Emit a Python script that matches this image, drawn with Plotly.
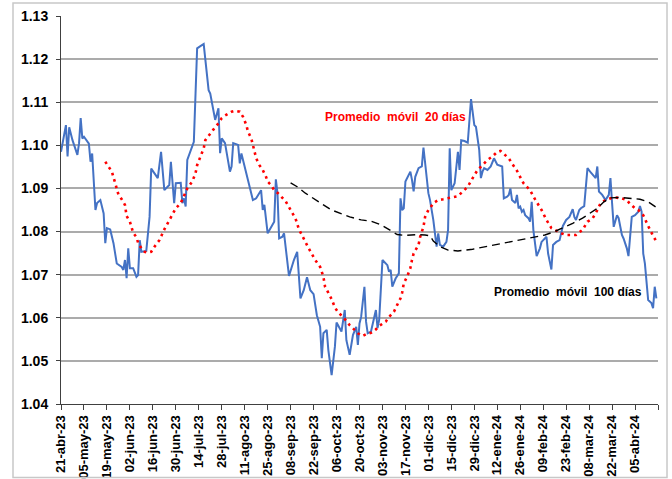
import plotly.graph_objects as go

# ---- Tipo de cambio (serie diaria) ----
fechas = [
"2023-04-21","2023-04-24","2023-04-25","2023-04-26","2023-04-28","2023-05-01","2023-05-02","2023-05-03","2023-05-04","2023-05-05",
"2023-05-08","2023-05-09","2023-05-10","2023-05-12","2023-05-13","2023-05-15","2023-05-17","2023-05-18","2023-05-19","2023-05-21",
"2023-05-23","2023-05-25","2023-05-28","2023-05-29","2023-05-30","2023-05-31","2023-06-01","2023-06-02","2023-06-04","2023-06-06",
"2023-06-07","2023-06-08","2023-06-09","2023-06-12","2023-06-14","2023-06-15","2023-06-19","2023-06-21","2023-06-23","2023-06-25",
"2023-06-26","2023-06-27","2023-06-29","2023-06-30","2023-07-03","2023-07-04","2023-07-05","2023-07-06","2023-07-07","2023-07-11",
"2023-07-13","2023-07-15","2023-07-17","2023-07-20","2023-07-21","2023-07-24","2023-07-26","2023-07-27","2023-07-28","2023-07-30",
"2023-08-02","2023-08-03","2023-08-04","2023-08-07","2023-08-08","2023-08-09","2023-08-11","2023-08-14","2023-08-16","2023-08-18",
"2023-08-21","2023-08-22","2023-08-23","2023-08-25","2023-08-27","2023-08-29","2023-08-30","2023-08-31","2023-09-01","2023-09-03",
"2023-09-04","2023-09-06","2023-09-07","2023-09-10","2023-09-12","2023-09-14","2023-09-16","2023-09-18","2023-09-20","2023-09-22",
"2023-09-24","2023-09-26","2023-09-27","2023-09-28","2023-09-30","2023-10-01","2023-10-03","2023-10-05","2023-10-06","2023-10-09",
"2023-10-11","2023-10-12","2023-10-13","2023-10-14","2023-10-16","2023-10-18","2023-10-19","2023-10-20","2023-10-21","2023-10-23",
"2023-10-24","2023-10-25","2023-10-27","2023-10-30","2023-10-31","2023-11-01","2023-11-03","2023-11-06","2023-11-07","2023-11-08",
"2023-11-09","2023-11-11","2023-11-13","2023-11-14","2023-11-15","2023-11-16","2023-11-17","2023-11-20","2023-11-21","2023-11-22",
"2023-11-23","2023-11-25","2023-11-27","2023-11-28","2023-12-01","2023-12-02","2023-12-04","2023-12-05","2023-12-06","2023-12-07",
"2023-12-08","2023-12-10","2023-12-12","2023-12-13","2023-12-14","2023-12-15","2023-12-17","2023-12-19","2023-12-20","2023-12-21",
"2023-12-23","2023-12-25","2023-12-27","2023-12-29","2023-12-30","2024-01-01","2024-01-02","2024-01-03","2024-01-04","2024-01-06",
"2024-01-08","2024-01-10","2024-01-12","2024-01-15","2024-01-16","2024-01-18","2024-01-19","2024-01-20","2024-01-21","2024-01-23",
"2024-01-24","2024-01-25","2024-01-26","2024-01-27","2024-01-28","2024-01-29","2024-01-31","2024-02-01","2024-02-02","2024-02-03",
"2024-02-04","2024-02-05","2024-02-07","2024-02-08","2024-02-11","2024-02-12","2024-02-14","2024-02-15","2024-02-17","2024-02-19",
"2024-02-21","2024-02-23","2024-02-25","2024-02-27","2024-02-28","2024-02-29","2024-03-02","2024-03-03","2024-03-05","2024-03-07",
"2024-03-09","2024-03-12","2024-03-13","2024-03-14","2024-03-16","2024-03-18","2024-03-20","2024-03-21","2024-03-22","2024-03-23",
"2024-03-25","2024-03-26","2024-03-28","2024-03-29","2024-03-31","2024-04-01","2024-04-03","2024-04-05","2024-04-07","2024-04-08",
"2024-04-09","2024-04-10","2024-04-11","2024-04-13","2024-04-15","2024-04-16","2024-04-17","2024-04-18"]
tipo_cambio = [
1.0985,1.1047,1.0974,1.1042,1.1012,1.0978,1.1005,1.1063,1.1016,1.1020,
1.1004,1.0962,1.0981,1.0850,1.0866,1.0873,1.0842,1.0773,1.0808,1.0805,
1.0773,1.0726,1.0718,1.0711,1.0734,1.0692,1.0761,1.0715,1.0715,1.0695,
1.0699,1.0780,1.0753,1.0755,1.0834,1.0946,1.0924,1.0985,1.0896,1.0904,
1.0908,1.0962,1.0866,1.0912,1.0913,1.0866,1.0877,1.0858,1.0966,1.1008,
1.1225,1.1230,1.1235,1.1128,1.1120,1.1059,1.1086,1.0982,1.1016,1.1005,
1.0939,1.0951,1.1005,1.1001,1.0958,1.0981,1.0950,1.0908,1.0873,1.0877,
1.0896,1.0850,1.0862,1.0796,1.0811,1.0823,1.0921,1.0889,1.0784,1.0788,
1.0796,1.0726,1.0697,1.0734,1.0753,1.0645,1.0664,1.0694,1.0664,1.0655,
1.0606,1.0579,1.0506,1.0564,1.0572,1.0525,1.0467,1.0533,1.0589,1.0568,
1.0618,1.0548,1.0529,1.0514,1.0560,1.0579,1.0537,1.0587,1.0602,1.0672,
1.0591,1.0564,1.0568,1.0618,1.0576,1.0595,1.0734,1.0722,1.0707,1.0711,
1.0672,1.0691,1.0703,1.0877,1.0850,1.0854,1.0916,1.0939,1.0920,1.0893,
1.0927,1.0947,1.0951,1.0995,1.0889,1.0873,1.0827,1.0788,1.0765,1.0796,
1.0769,1.0765,1.0776,1.0804,1.0993,1.0896,1.0912,1.0985,1.0943,1.1012,
1.1010,1.1006,1.1107,1.1047,1.1043,1.0989,1.0924,1.0939,1.0947,1.0943,
1.0951,1.0970,1.0955,1.0951,1.0877,1.0881,1.0885,1.0900,1.0873,1.0866,
1.0885,1.0854,1.0858,1.0846,1.0850,1.0838,1.0831,1.0823,1.0869,1.0804,
1.0773,1.0743,1.0761,1.0776,1.0788,1.0749,1.0712,1.0769,1.0776,1.0780,
1.0813,1.0827,1.0834,1.0852,1.0834,1.0827,1.0850,1.0854,1.0859,1.0947,
1.0937,1.0924,1.0951,1.0893,1.0885,1.0873,1.0885,1.0924,1.0866,1.0811,
1.0838,1.0831,1.0792,1.0784,1.0761,1.0743,1.0834,1.0838,1.0846,1.0859,
1.0846,1.0749,1.0726,1.0641,1.0634,1.0622,1.0672,1.0645]

# ---- Promedio movil 20 dias ----
fechas_pm20 = [
"2023-05-18","2023-05-20","2023-05-22","2023-05-24","2023-05-25","2023-05-26","2023-05-28","2023-05-30","2023-05-31","2023-06-02",
"2023-06-03","2023-06-04","2023-06-06","2023-06-07","2023-06-09","2023-06-11","2023-06-13","2023-06-15","2023-06-17","2023-06-20",
"2023-06-23","2023-06-25","2023-06-27","2023-06-30","2023-07-03","2023-07-05","2023-07-07","2023-07-10","2023-07-12","2023-07-13",
"2023-07-15","2023-07-17","2023-07-18","2023-07-21","2023-07-23","2023-07-26","2023-07-28","2023-07-30","2023-08-03","2023-08-05",
"2023-08-08","2023-08-10","2023-08-12","2023-08-13","2023-08-15","2023-08-16","2023-08-17","2023-08-18","2023-08-20","2023-08-22",
"2023-08-24","2023-08-25","2023-08-27","2023-08-29","2023-08-31","2023-09-05","2023-09-08","2023-09-11","2023-09-13","2023-09-16",
"2023-09-19","2023-09-23","2023-09-26","2023-09-28","2023-09-29","2023-10-01","2023-10-03","2023-10-05","2023-10-07","2023-10-10",
"2023-10-12","2023-10-14","2023-10-17","2023-10-19","2023-10-22","2023-10-24","2023-10-27","2023-10-30","2023-11-01","2023-11-05",
"2023-11-07","2023-11-10","2023-11-12","2023-11-14","2023-11-15","2023-11-16","2023-11-18","2023-11-20","2023-11-21","2023-11-22",
"2023-11-25","2023-11-26","2023-11-28","2023-11-29","2023-12-01","2023-12-02","2023-12-04","2023-12-07","2023-12-10","2023-12-13",
"2023-12-16","2023-12-19","2023-12-22","2023-12-25","2023-12-28","2023-12-31","2024-01-03","2024-01-06","2024-01-09","2024-01-12",
"2024-01-14","2024-01-16","2024-01-19","2024-01-21","2024-01-24","2024-01-28","2024-02-01","2024-02-04","2024-02-08","2024-02-11",
"2024-02-14","2024-02-17","2024-02-20","2024-02-23","2024-02-26","2024-02-29","2024-03-04","2024-03-07","2024-03-10","2024-03-12",
"2024-03-15","2024-03-18","2024-03-21","2024-03-24","2024-03-28","2024-03-31","2024-04-02","2024-04-05","2024-04-07","2024-04-10",
"2024-04-13","2024-04-14","2024-04-16","2024-04-18"]
pm20 = [
1.0962,1.0949,1.0939,1.0913,1.0898,1.0886,1.0875,1.0862,1.0836,1.0823,
1.0810,1.0797,1.0787,1.0774,1.0761,1.0753,1.0751,1.0753,1.0765,1.0780,
1.0805,1.0819,1.0831,1.0854,1.0866,1.0885,1.0900,1.0916,1.0935,1.0954,
1.0974,1.0993,1.1012,1.1028,1.1037,1.1051,1.1063,1.1069,1.1078,1.1080,
1.1078,1.1066,1.1047,1.1032,1.1016,1.1001,1.0985,1.0970,1.0954,1.0943,
1.0927,1.0916,1.0908,1.0896,1.0890,1.0870,1.0850,1.0830,1.0806,1.0782,
1.0761,1.0734,1.0718,1.0695,1.0672,1.0658,1.0643,1.0624,1.0612,1.0602,
1.0591,1.0583,1.0572,1.0564,1.0558,1.0562,1.0565,1.0573,1.0581,1.0591,
1.0602,1.0614,1.0630,1.0645,1.0658,1.0680,1.0695,1.0715,1.0734,1.0749,
1.0769,1.0788,1.0811,1.0834,1.0850,1.0854,1.0866,1.0873,1.0875,1.0877,
1.0879,1.0882,1.0893,1.0904,1.0924,1.0943,1.0954,1.0966,1.0974,1.0985,
1.0987,1.0981,1.0970,1.0958,1.0941,1.0912,1.0896,1.0875,1.0850,1.0827,
1.0808,1.0802,1.0796,1.0792,1.0792,1.0792,1.0804,1.0823,1.0830,1.0842,
1.0866,1.0873,1.0877,1.0879,1.0877,1.0873,1.0864,1.0854,1.0850,1.0838,
1.0813,1.0804,1.0790,1.0777]

# ---- Promedio movil 100 dias ----
fechas_pm100 = [
"2023-09-08","2023-09-12","2023-09-17","2023-09-24","2023-09-28","2023-10-03","2023-10-08","2023-10-14","2023-10-21","2023-10-27",
"2023-11-02","2023-11-07","2023-11-12","2023-11-17","2023-11-24","2023-11-29","2023-12-02","2023-12-04","2023-12-08","2023-12-13",
"2023-12-19","2023-12-28","2024-01-08","2024-01-17","2024-01-25","2024-02-02","2024-02-10","2024-02-16","2024-02-21","2024-02-27",
"2024-03-04","2024-03-09","2024-03-13","2024-03-17","2024-03-21","2024-03-27","2024-04-02","2024-04-08","2024-04-13","2024-04-17",
"2024-04-18"]
pm100 = [
1.0913,1.0904,1.0889,1.0873,1.0862,1.0850,1.0842,1.0834,1.0827,1.0824,
1.0816,1.0804,1.0793,1.0791,1.0793,1.0792,1.0790,1.0778,1.0765,1.0757,
1.0755,1.0759,1.0767,1.0773,1.0779,1.0786,1.0792,1.0800,1.0808,1.0819,
1.0831,1.0843,1.0854,1.0869,1.0878,1.0879,1.0877,1.0875,1.0869,1.0860,
1.0856]

# ---- Eje X ----
tick_fechas = [
"2023-04-21","2023-05-05","2023-05-19","2023-06-02","2023-06-16","2023-06-30","2023-07-14","2023-07-28","2023-08-11","2023-08-25",
"2023-09-08","2023-09-22","2023-10-06","2023-10-20","2023-11-03","2023-11-17","2023-12-01","2023-12-15","2023-12-29","2024-01-12",
"2024-01-26","2024-02-09","2024-02-23","2024-03-08","2024-03-22","2024-04-05","2024-04-19"]
tick_textos = [
"21-abr-23","05-may-23","19-may-23","02-jun-23","16-jun-23","30-jun-23","14-jul-23","28-jul-23","11-ago-23","25-ago-23",
"08-sep-23","22-sep-23","06-oct-23","20-oct-23","03-nov-23","17-nov-23","01-dic-23","15-dic-23","29-dic-23","12-ene-24",
"26-ene-24","09-feb-24","23-feb-24","08-mar-24","22-mar-24","05-abr-24",""]

FONT = "Liberation Sans, Arial, sans-serif"

fig = go.Figure()
fig.add_trace(go.Scatter(x=fechas, y=tipo_cambio, mode="lines",
                         line=dict(color="#4472C4", width=2), hoverinfo="x+y"))
fig.add_trace(go.Scatter(x=fechas_pm20, y=pm20, mode="lines",
                         line=dict(color="#FF0000", width=2.6, dash="2.6px,4px")))
fig.add_trace(go.Scatter(x=fechas_pm100, y=pm100, mode="lines",
                         line=dict(color="#000000", width=1.4, dash="8px,5px")))

fig.add_annotation(x="2023-11-11", y=1.1066, text="<b>Promedio  móvil  20 días</b>",
                   showarrow=False, font=dict(family=FONT, size=12, color="#FF0000"))
fig.add_annotation(x="2024-02-24", y=1.0660, text="<b>Promedio  móvil  100 días</b>",
                   showarrow=False, font=dict(family=FONT, size=12, color="#000000"))

# marco exterior
fig.add_shape(type="rect", xref="paper", yref="paper",
              x0=-0.0804, x1=1.0151, y0=-0.1894, y1=1.0335,
              line=dict(color="#C8C8C8", width=1.5), layer="above")

fig.update_layout(
    width=672, height=479,
    margin=dict(l=61, r=14, t=16, b=75, autoexpand=False),
    plot_bgcolor="white", paper_bgcolor="white",
    showlegend=False,
    font=dict(family=FONT, color="black"),
    xaxis=dict(type="date", range=["2023-04-21", "2024-04-19"], automargin=False,
               tickmode="array", tickvals=tick_fechas, ticktext=tick_textos,
               tickangle=-90, tickfont=dict(family=FONT, size=13, color="black", weight="bold"),
               showgrid=False, showline=True, linecolor="#404040", linewidth=1,
               ticks="outside", ticklen=5, tickcolor="#404040", zeroline=False),
    yaxis=dict(range=[1.04, 1.13], dtick=0.01, tick0=1.04, tickformat=".2f", automargin=False,
               tickfont=dict(family=FONT, size=14, color="black", weight="bold"),
               ticklabelstandoff=5,
               showgrid=True, gridcolor="#ABABAB", gridwidth=1.5,
               showline=True, linecolor="#404040", linewidth=1,
               ticks="outside", ticklen=4, tickcolor="#404040", zeroline=False),
)

fig.write_html("out.html", config={"displayModeBar": False},
               post_script="document.body.style.margin='0';document.body.style.overflow='hidden';")
